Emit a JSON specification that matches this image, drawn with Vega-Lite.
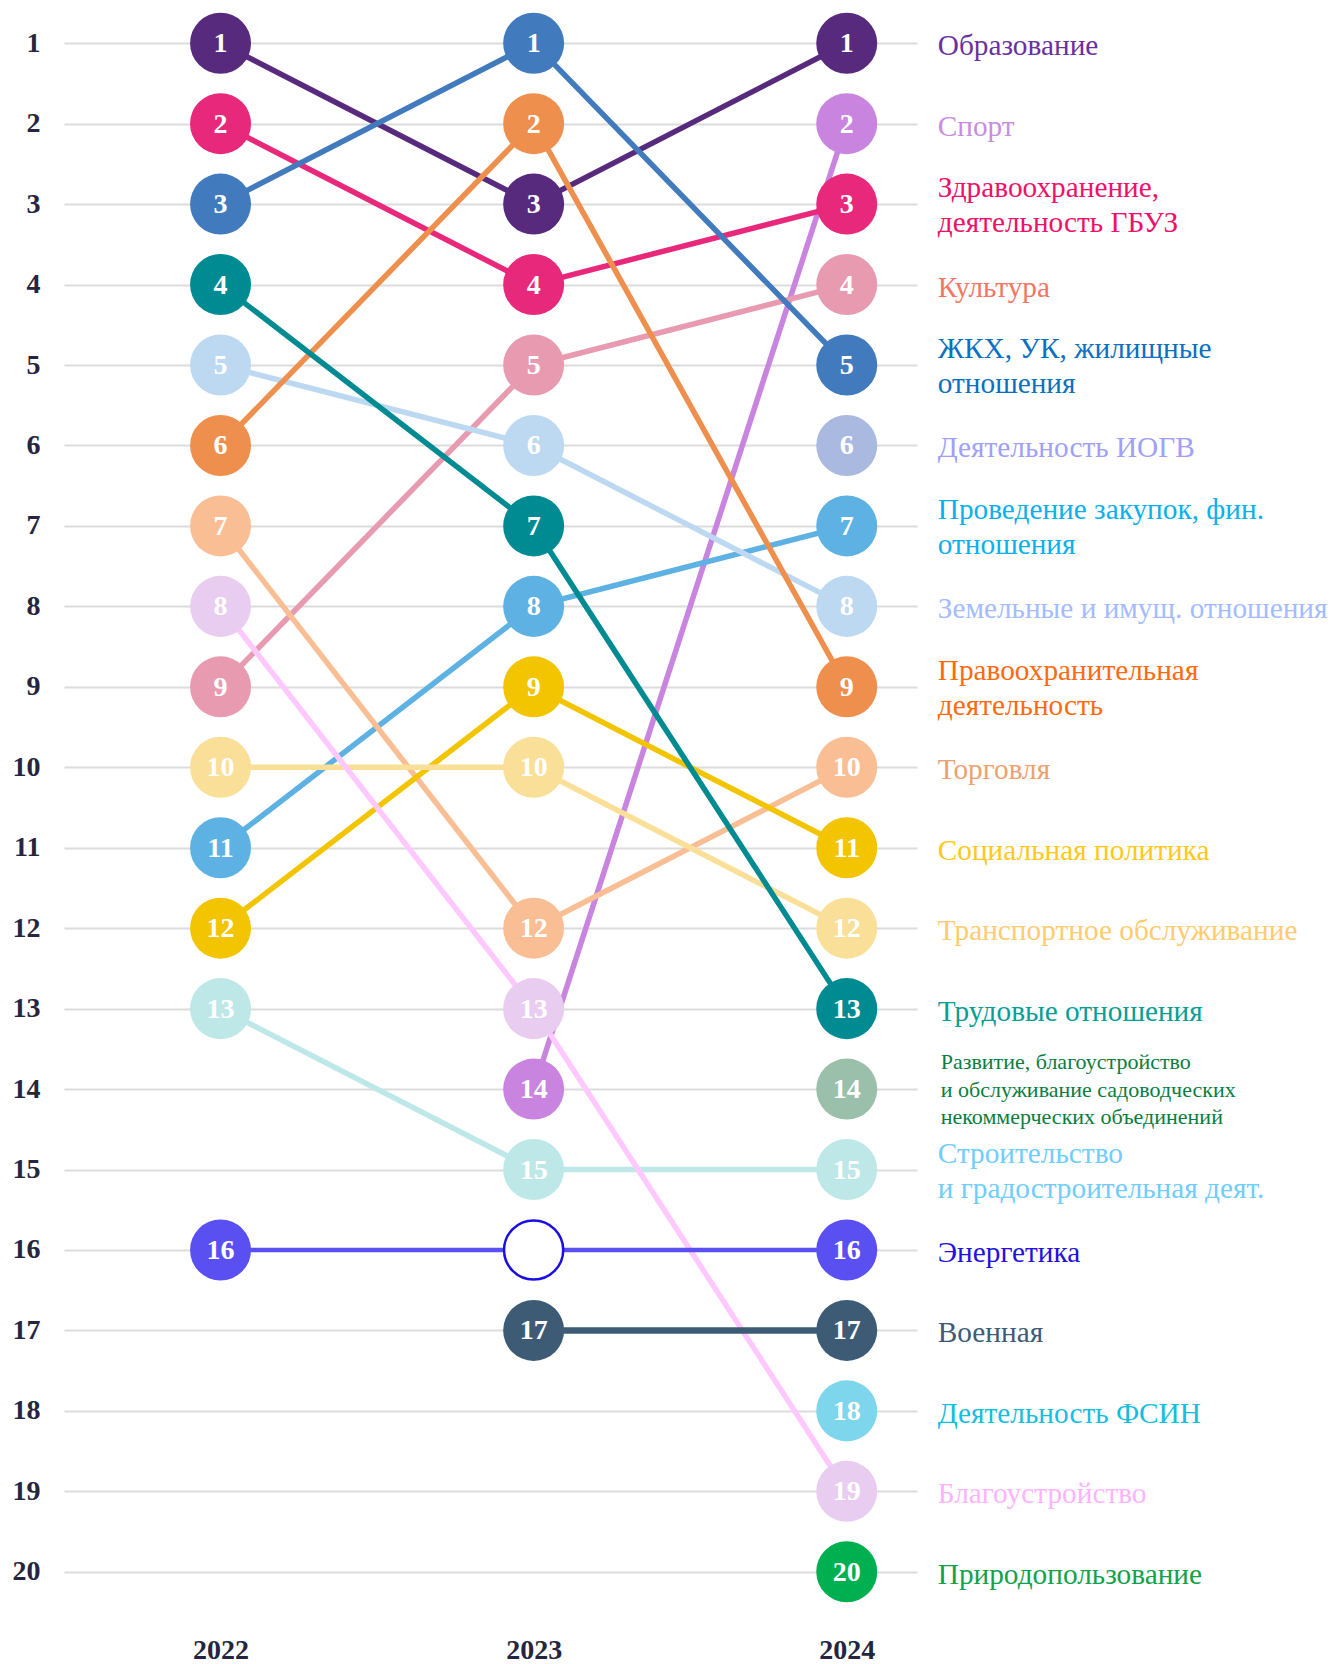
{
  "$schema": "https://vega.github.io/schema/vega-lite/v6.json",
  "autosize": {"type": "none"},
  "padding": {"left": 64, "right": 414, "top": 0, "bottom": 54},
  "width": 853,
  "height": 1610,
  "background": "white",
  "config": {"view": {"stroke": null}, "font": "Liberation Serif"},
  "datasets": {
    "ranks": [
      {"name": "Образование", "year": 2022, "rank": 1},
      {"name": "Образование", "year": 2023, "rank": 3},
      {"name": "Образование", "year": 2024, "rank": 1},
      {"name": "Спорт", "year": 2023, "rank": 14},
      {"name": "Спорт", "year": 2024, "rank": 2},
      {"name": "Здравоохранение, деятельность ГБУЗ", "year": 2022, "rank": 2},
      {"name": "Здравоохранение, деятельность ГБУЗ", "year": 2023, "rank": 4},
      {"name": "Здравоохранение, деятельность ГБУЗ", "year": 2024, "rank": 3},
      {"name": "Культура", "year": 2022, "rank": 9},
      {"name": "Культура", "year": 2023, "rank": 5},
      {"name": "Культура", "year": 2024, "rank": 4},
      {"name": "ЖКХ, УК, жилищные отношения", "year": 2022, "rank": 3},
      {"name": "ЖКХ, УК, жилищные отношения", "year": 2023, "rank": 1},
      {"name": "ЖКХ, УК, жилищные отношения", "year": 2024, "rank": 5},
      {"name": "Деятельность ИОГВ", "year": 2024, "rank": 6},
      {"name": "Проведение закупок, фин. отношения", "year": 2022, "rank": 11},
      {"name": "Проведение закупок, фин. отношения", "year": 2023, "rank": 8},
      {"name": "Проведение закупок, фин. отношения", "year": 2024, "rank": 7},
      {"name": "Земельные и имущ. отношения", "year": 2022, "rank": 5},
      {"name": "Земельные и имущ. отношения", "year": 2023, "rank": 6},
      {"name": "Земельные и имущ. отношения", "year": 2024, "rank": 8},
      {"name": "Правоохранительная деятельность", "year": 2022, "rank": 6},
      {"name": "Правоохранительная деятельность", "year": 2023, "rank": 2},
      {"name": "Правоохранительная деятельность", "year": 2024, "rank": 9},
      {"name": "Торговля", "year": 2022, "rank": 7},
      {"name": "Торговля", "year": 2023, "rank": 12},
      {"name": "Торговля", "year": 2024, "rank": 10},
      {"name": "Социальная политика", "year": 2022, "rank": 12},
      {"name": "Социальная политика", "year": 2023, "rank": 9},
      {"name": "Социальная политика", "year": 2024, "rank": 11},
      {"name": "Транспортное обслуживание", "year": 2022, "rank": 10},
      {"name": "Транспортное обслуживание", "year": 2023, "rank": 10},
      {"name": "Транспортное обслуживание", "year": 2024, "rank": 12},
      {"name": "Трудовые отношения", "year": 2022, "rank": 4},
      {"name": "Трудовые отношения", "year": 2023, "rank": 7},
      {"name": "Трудовые отношения", "year": 2024, "rank": 13},
      {"name": "Развитие СНТ", "year": 2024, "rank": 14},
      {"name": "Строительство и градостроительная деят.", "year": 2022, "rank": 13},
      {"name": "Строительство и градостроительная деят.", "year": 2023, "rank": 15},
      {"name": "Строительство и градостроительная деят.", "year": 2024, "rank": 15},
      {"name": "Энергетика", "year": 2022, "rank": 16},
      {"name": "Энергетика", "year": 2023, "rank": 16, "hollow": true},
      {"name": "Энергетика", "year": 2024, "rank": 16},
      {"name": "Военная", "year": 2023, "rank": 17},
      {"name": "Военная", "year": 2024, "rank": 17},
      {"name": "Деятельность ФСИН", "year": 2024, "rank": 18},
      {"name": "Благоустройство", "year": 2022, "rank": 8},
      {"name": "Благоустройство", "year": 2023, "rank": 13},
      {"name": "Благоустройство", "year": 2024, "rank": 19},
      {"name": "Природопользование", "year": 2024, "rank": 20}
    ],
    "labels": [
      {"name": "Образование", "year": 2024, "rank": 1, "label": "Образование"},
      {"name": "Спорт", "year": 2024, "rank": 2, "label": "Спорт"},
      {"name": "Здравоохранение, деятельность ГБУЗ", "year": 2024, "rank": 3, "label": ["Здравоохранение,", "деятельность ГБУЗ"]},
      {"name": "Культура", "year": 2024, "rank": 4, "label": "Культура"},
      {"name": "ЖКХ, УК, жилищные отношения", "year": 2024, "rank": 5, "label": ["ЖКХ, УК, жилищные", "отношения"]},
      {"name": "Деятельность ИОГВ", "year": 2024, "rank": 6, "label": "Деятельность ИОГВ"},
      {"name": "Проведение закупок, фин. отношения", "year": 2024, "rank": 7, "label": ["Проведение закупок, фин.", "отношения"]},
      {"name": "Земельные и имущ. отношения", "year": 2024, "rank": 8, "label": "Земельные и имущ. отношения"},
      {"name": "Правоохранительная деятельность", "year": 2024, "rank": 9, "label": ["Правоохранительная", "деятельность"]},
      {"name": "Торговля", "year": 2024, "rank": 10, "label": "Торговля"},
      {"name": "Социальная политика", "year": 2024, "rank": 11, "label": "Социальная политика"},
      {"name": "Транспортное обслуживание", "year": 2024, "rank": 12, "label": "Транспортное обслуживание"},
      {"name": "Трудовые отношения", "year": 2024, "rank": 13, "label": "Трудовые отношения"},
      {"name": "Развитие СНТ", "year": 2024, "rank": 14, "label": ["Развитие, благоустройство", "и обслуживание садоводческих", "некоммерческих объединений"]},
      {"name": "Строительство и градостроительная деят.", "year": 2024, "rank": 15, "label": ["Строительство", "и градостроительная деят."]},
      {"name": "Энергетика", "year": 2024, "rank": 16, "label": "Энергетика"},
      {"name": "Военная", "year": 2024, "rank": 17, "label": "Военная"},
      {"name": "Деятельность ФСИН", "year": 2024, "rank": 18, "label": "Деятельность ФСИН"},
      {"name": "Благоустройство", "year": 2024, "rank": 19, "label": "Благоустройство"},
      {"name": "Природопользование", "year": 2024, "rank": 20, "label": "Природопользование"}
    ]
  },
  "encoding": {
    "x": {
      "field": "year", "type": "quantitative",
      "scale": {"domain": [2021.5, 2024.2244], "nice": false, "zero": false},
      "axis": {"values": [2022, 2023, 2024], "format": "d", "title": null, "grid": false, "domain": false, "ticks": false,
               "labelFontSize": 28, "labelFontWeight": "bold", "labelColor": "#25253F", "labelPadding": 26, "labelFont": "Liberation Serif"}
    },
    "y": {
      "field": "rank", "type": "quantitative",
      "scale": {"domain": [0.463, 20.475], "reverse": true, "nice": false, "zero": false},
      "axis": {"values": [1,2,3,4,5,6,7,8,9,10,11,12,13,14,15,16,17,18,19,20], "title": null, "domain": false, "ticks": false,
               "grid": true, "gridColor": "#DCDCDC", "gridWidth": 2,
               "labelFontSize": 28, "labelFontWeight": "bold", "labelColor": "#25253F", "labelPadding": 24, "labelFont": "Liberation Serif", "labelBaseline": "middle"}
    },
    "stroke": {"field": "name", "type": "nominal", "legend": null,
      "scale": {
        "domain": ["Образование", "Спорт", "Здравоохранение, деятельность ГБУЗ", "Культура", "ЖКХ, УК, жилищные отношения", "Деятельность ИОГВ", "Проведение закупок, фин. отношения", "Земельные и имущ. отношения", "Правоохранительная деятельность", "Торговля", "Социальная политика", "Транспортное обслуживание", "Трудовые отношения", "Развитие СНТ", "Строительство и градостроительная деят.", "Энергетика", "Военная", "Деятельность ФСИН", "Благоустройство", "Природопользование"],
        "range": ["#582A7E", "#C884DF", "#E8287A", "#E89BB0", "#427BBD", "#A9B9E0", "#5DB1E3", "#BDD9F2", "#EF8F4D", "#F9BE94", "#F2C500", "#FADF98", "#008B93", "#9ABFAB", "#BEE8E8", "#5A50F2", "#3E5B76", "#7DD6EC", "#FFC9FF", "#00B050"]
      }}
  },
  "layer": [
    {
      "data": {"name": "ranks"},
      "transform": [{"filter": "datum.name !== 'Энергетика' && datum.name !== 'Военная'"}],
      "mark": {"type": "line", "strokeWidth": 5.5},
      "encoding": {"detail": {"field": "name"}, "order": {"field": "year"}}
    },
    {
      "data": {"name": "ranks"},
      "transform": [{"filter": "datum.name === 'Энергетика'"}],
      "mark": {"type": "line", "strokeWidth": 4.5},
      "encoding": {"detail": {"field": "name"}, "order": {"field": "year"}}
    },
    {
      "data": {"name": "ranks"},
      "transform": [{"filter": "datum.name === 'Военная'"}],
      "mark": {"type": "line", "strokeWidth": 6.5},
      "encoding": {"detail": {"field": "name"}, "order": {"field": "year"}}
    },
    {
      "data": {"name": "ranks"},
      "transform": [{"filter": "!datum.hollow"}],
      "mark": {"type": "point", "shape": "circle", "filled": true, "size": 3721, "opacity": 1, "strokeWidth": 0},
      "encoding": {
        "stroke": null,
        "color": {"field": "name", "type": "nominal", "legend": null,
          "scale": {
            "domain": ["Образование", "Спорт", "Здравоохранение, деятельность ГБУЗ", "Культура", "ЖКХ, УК, жилищные отношения", "Деятельность ИОГВ", "Проведение закупок, фин. отношения", "Земельные и имущ. отношения", "Правоохранительная деятельность", "Торговля", "Социальная политика", "Транспортное обслуживание", "Трудовые отношения", "Развитие СНТ", "Строительство и градостроительная деят.", "Энергетика", "Военная", "Деятельность ФСИН", "Благоустройство", "Природопользование"],
            "range": ["#582A7E", "#C884DF", "#E8287A", "#E89BB0", "#427BBD", "#A9B9E0", "#5DB1E3", "#BDD9F2", "#EF8F4D", "#F9BE94", "#F2C500", "#FADF98", "#008B93", "#9ABFAB", "#BEE8E8", "#5A50F2", "#3E5B76", "#7DD6EC", "#E8CDF1", "#00B050"]
          }}
      }
    },
    {
      "data": {"name": "ranks"},
      "transform": [{"filter": "datum.hollow"}],
      "mark": {"type": "point", "shape": "circle", "filled": true, "fill": "white", "stroke": "#1A0FE0", "strokeWidth": 2.5, "size": 3500, "opacity": 1},
      "encoding": {"stroke": null}
    },
    {
      "data": {"name": "ranks"},
      "transform": [{"filter": "!datum.hollow"}],
      "mark": {"type": "text", "color": "white", "fontSize": 28, "fontWeight": "bold", "font": "Liberation Serif", "align": "center", "baseline": "middle", "dy": 1},
      "encoding": {"stroke": null, "text": {"field": "rank", "type": "quantitative", "format": "d"}}
    },
    {
      "data": {"name": "labels"},
      "transform": [{"filter": "!isArray(datum.label)"}],
      "mark": {"type": "text", "fontSize": 29.3, "font": "Liberation Serif", "align": "left", "baseline": "middle", "dx": 91, "dy": 3, "lineHeight": 34},
      "encoding": {
        "stroke": null,
        "text": {"field": "label"},
        "fill": {"field": "name", "type": "nominal", "legend": null,
          "scale": {
            "domain": ["Образование", "Спорт", "Здравоохранение, деятельность ГБУЗ", "Культура", "ЖКХ, УК, жилищные отношения", "Деятельность ИОГВ", "Проведение закупок, фин. отношения", "Земельные и имущ. отношения", "Правоохранительная деятельность", "Торговля", "Социальная политика", "Транспортное обслуживание", "Трудовые отношения", "Развитие СНТ", "Строительство и градостроительная деят.", "Энергетика", "Военная", "Деятельность ФСИН", "Благоустройство", "Природопользование"],
            "range": ["#6A30A0", "#C98DE0", "#F0106A", "#F47564", "#0B70C0", "#A0A0F8", "#0AB0EC", "#A4BCFF", "#FF6A10", "#F0A070", "#FFC81A", "#FFCB70", "#089E98", "#0A7D40", "#6FCDFF", "#2510E0", "#3E5B76", "#14BEDC", "#FFB3FF", "#12A24A"]
          }}
      }
    },
    {
      "data": {"name": "labels"},
      "transform": [{"filter": "isArray(datum.label) && length(datum.label) === 2"}],
      "mark": {"type": "text", "fontSize": 29.3, "font": "Liberation Serif", "align": "left", "baseline": "middle", "dx": 91, "dy": -16, "lineHeight": 35},
      "encoding": {
        "stroke": null,
        "text": {"field": "label"},
        "fill": {"field": "name", "type": "nominal", "legend": null}
      }
    },
    {
      "data": {"name": "labels"},
      "transform": [{"filter": "isArray(datum.label) && length(datum.label) === 3"}],
      "mark": {"type": "text", "fontSize": 22, "font": "Liberation Serif", "align": "left", "baseline": "middle", "dx": 94, "dy": -27, "lineHeight": 27.5},
      "encoding": {
        "stroke": null,
        "text": {"field": "label"},
        "fill": {"field": "name", "type": "nominal", "legend": null}
      }
    }
  ]
}
